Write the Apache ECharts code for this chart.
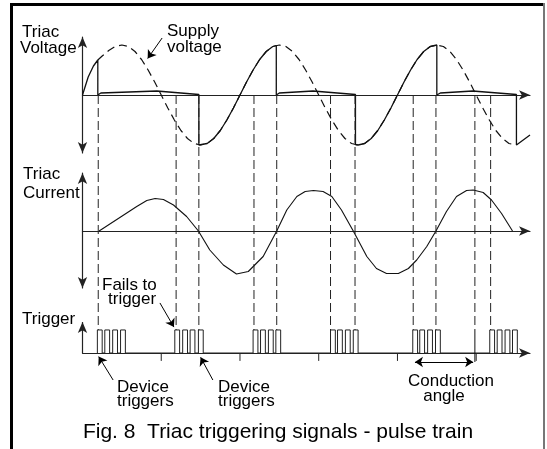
<!DOCTYPE html>
<html>
<head>
<meta charset="utf-8">
<title>Triac triggering signals</title>
<script src="https://cdn.jsdelivr.net/npm/echarts@6/dist/echarts.min.js"></script>
<style>
html, body { margin: 0; padding: 0; background: #fff; }
#chart { width: 547px; height: 449px; }
</style>
</head>
<body>
<div id="chart"></div>
<script>
// x is in electrical degrees from the first zero crossing of the supply
const supplyVoltage = [
  [35, 0.70], [45, 0.78], [60, 0.89], [75, 0.97], [90, 1], [105, 0.97], [120, 0.87], [135, 0.71], [150, 0.5], [165, 0.26],
  [180, 0], [195, -0.26], [210, -0.5], [225, -0.71], [240, -0.87], [255, -0.97], [270, -1], [285, -0.97], [300, -0.87], [315, -0.71], [330, -0.5], [345, -0.26],
  [360, 0], [375, 0.26], [390, 0.5], [405, 0.71], [420, 0.87], [435, 0.97], [450, 1], [465, 0.97], [480, 0.87], [495, 0.71], [510, 0.5], [525, 0.26],
  [540, 0], [555, -0.26], [570, -0.5], [585, -0.71], [600, -0.87], [615, -0.97], [630, -1], [645, -0.97], [660, -0.87], [675, -0.71], [690, -0.5], [705, -0.26],
  [720, 0], [735, 0.26], [750, 0.5], [765, 0.71], [780, 0.87], [795, 0.97], [810, 1], [825, 0.97], [840, 0.87], [855, 0.71], [870, 0.5], [885, 0.26],
  [900, 0], [915, -0.26], [930, -0.5], [945, -0.71], [960, -0.87], [975, -0.97], [990, -1]
];

// triac voltage (solid)
const firingAngles = [35, 443, 810];
const turnOffAngles = [266, 624, 992];
const voltageStart = [[0, 0], [13, 0.36], [25, 0.58], [35, 0.70]];
const onStateVoltage = [
  [[42, 0.04], [170, 0.08], [266, 0.01]],
  [[450, 0.04], [527, 0.08], [624, 0.01]],
  [[818, 0.04], [892, 0.08], [992, 0.01]]
];
const blockedStart = [[266, -1], [624, -0.99], [992, -1]];
const blockedEnd = [[443, 0.99], [810, 1], [1023, -0.8]];

const triacCurrent = [
  [38, 0], [124, 0.49], [147, 0.61], [166, 0.65], [185, 0.63], [208, 0.52], [238, 0.29], [265, 0],
  [291, -0.38], [322, -0.68], [352, -0.86], [379, -0.81], [413, -0.51], [444, 0],
  [467, 0.42], [490, 0.69], [509, 0.79], [528, 0.81], [550, 0.79], [570, 0.69], [592, 0.42], [619, 0],
  [650, -0.51], [672, -0.75], [695, -0.85], [722, -0.85], [745, -0.75], [764, -0.58], [787, -0.31], [808, 0],
  [832, 0.39], [855, 0.69], [878, 0.81], [893, 0.82], [916, 0.77], [935, 0.62], [958, 0.35], [983, 0]
];

const triggerLines = [36, 214, 266, 392, 444, 567, 623, 756, 808, 897, 933];
const pulseTrains = [
  [34, 51, 69, 87], [211, 229, 246, 265], [390, 407, 425, 442],
  [567, 583, 601, 619], [755, 771, 789, 807], [931, 948, 966, 983]
];
const pulseWidth = 11;
const pulseHeight = 0.64;
const zeroCrossings = [180, 360, 540, 720, 900];
const tickDepth = -0.22;
const conductionAngle = [756, 897];

// build the solid triac voltage trace
const triacVoltage = voltageStart.slice();
for (let i = 0; i < 3; i++) {
  triacVoltage.push([firingAngles[i], 0]);
  onStateVoltage[i].forEach(p => triacVoltage.push(p));
  triacVoltage.push(blockedStart[i]);
  const next = blockedEnd[i][0];
  supplyVoltage.forEach(p => { if (p[0] > turnOffAngles[i] && p[0] < next) triacVoltage.push(p); });
  triacVoltage.push(blockedEnd[i]);
}

// pulse path
const pulses = [];
pulseTrains.forEach(train => train.forEach(s => {
  pulses.push([s, 0], [s, pulseHeight], [s + pulseWidth, pulseHeight], [s + pulseWidth, 0]);
}));

const FONT = '"Liberation Sans", Arial, Helvetica, sans-serif';
const ink = '#111';
const left = 82.5, right = 17, xMax = 1023;

const axisStyle = { color: '#222', width: 1.2 };

const chart = echarts.init(document.getElementById('chart'));

function xAxis(i, show) {
  return {
    type: 'value', gridIndex: i, min: 0, max: xMax, show: show,
    axisLine: { show: true, onZero: true, symbol: ['none', 'arrow'], symbolSize: [7, 11], lineStyle: axisStyle },
    axisTick: { show: false },
    axisLabel: { show: false },
    splitLine: { show: false }
  };
}
function yAxis(i, min, max, showLine) {
  return {
    type: 'value', gridIndex: i, min: min, max: max, show: showLine,
    axisLine: { show: showLine, onZero: false, symbol: ['arrow', 'arrow'], symbolSize: [7, 11], lineStyle: axisStyle },
    axisTick: { show: false }, axisLabel: { show: false }, splitLine: { show: false }
  };
}

const arrowLine = { type: 'solid', color: '#000', width: 1 };

const texts = [
  ['Triac', 22, 32.5], ['Voltage', 20, 48.5],
  ['Supply', 167, 31], ['voltage', 167, 47],
  ['Triac', 23, 174], ['Current', 23, 193],
  ['Fails to', 102, 285], ['trigger', 108, 299],
  ['Trigger', 22, 319],
  ['Device', 117, 387], ['triggers', 117, 401],
  ['Device', 218, 387], ['triggers', 218, 401]
];

const graphic = texts.map(t => ({
  type: 'text', silent: true,
  style: { text: t[0], x: t[1], y: t[2], fill: '#000', font: '17px ' + FONT, textAlign: 'left', textVerticalAlign: 'middle' }
}));
graphic.push(
  { type: 'text', silent: true, style: { text: 'Conduction', x: 451, y: 381, fill: '#000', font: '17px ' + FONT, textAlign: 'center', textVerticalAlign: 'middle' } },
  { type: 'text', silent: true, style: { text: 'angle', x: 444, y: 396, fill: '#000', font: '17px ' + FONT, textAlign: 'center', textVerticalAlign: 'middle' } },
  { type: 'text', silent: true, style: { text: 'Fig. 8  Triac triggering signals - pulse train', x: 278, y: 432, fill: '#000', font: '21px ' + FONT, textAlign: 'center', textVerticalAlign: 'middle' } },
  // frame, open at the bottom
  { type: 'line', silent: true, shape: { x1: 11.5, y1: 3, x2: 11.5, y2: 449 }, style: { stroke: '#000', lineWidth: 3 } },
  { type: 'line', silent: true, shape: { x1: 10, y1: 4.5, x2: 545, y2: 4.5 }, style: { stroke: '#000', lineWidth: 3 } },
  { type: 'line', silent: true, shape: { x1: 544, y1: 3, x2: 544, y2: 449 }, style: { stroke: '#777', lineWidth: 2 } }
);

const series = [
  {
    name: 'Supply voltage', type: 'line', xAxisIndex: 0, yAxisIndex: 0,
    data: supplyVoltage, showSymbol: false, clip: false,
    lineStyle: { color: ink, width: 1.2, type: [8, 5] },
    markLine: {
      silent: true, symbol: ['none', 'arrow'], symbolSize: 8, label: { show: false },
      lineStyle: arrowLine,
      data: [[{ coord: [182, 1.14] }, { coord: [149, 0.73] }]]
    }
  },
  {
    name: 'Triac voltage', type: 'line', xAxisIndex: 0, yAxisIndex: 0,
    data: triacVoltage, showSymbol: false, clip: false,
    lineStyle: { color: ink, width: 1.3 }
  },
  {
    name: 'Triac current', type: 'line', xAxisIndex: 1, yAxisIndex: 1,
    data: triacCurrent, showSymbol: false, clip: false,
    lineStyle: { color: ink, width: 1.1 }
  },
  {
    name: 'Trigger', type: 'line', xAxisIndex: 2, yAxisIndex: 2,
    data: pulses, showSymbol: false, clip: false,
    lineStyle: { color: '#222', width: 1 },
    markLine: {
      silent: true, symbol: ['none', 'arrow'], symbolSize: 8, label: { show: false },
      lineStyle: arrowLine,
      data: [
        [{ coord: [177, 1.39] }, { coord: [209, 0.72] }],
        [{ coord: [70, -0.75] }, { coord: [37, -0.1] }],
        [{ coord: [298, -0.75] }, { coord: [270, -0.12] }],
        [{ coord: [conductionAngle[0] + 4, -0.25], symbol: 'arrow' }, { coord: [conductionAngle[1] - 4, -0.25], symbol: 'arrow' }]
      ]
    }
  },
  {
    // vertical axis of the trigger trace
    name: 'Trigger axis', type: 'line', xAxisIndex: 2, yAxisIndex: 2,
    data: [{ value: [0, 0], symbol: 'none' }, { value: [0, 0.86], symbol: 'arrow', symbolSize: [7, 11] }],
    showSymbol: true, clip: false,
    itemStyle: { color: '#222' },
    lineStyle: { color: '#222', width: 1.2 }
  },
  {
    name: 'Conduction end', type: 'line', xAxisIndex: 2, yAxisIndex: 2,
    data: [[conductionAngle[1], pulseHeight], [conductionAngle[1], -0.25]],
    showSymbol: false, clip: false,
    lineStyle: { color: ink, width: 1 }
  }
];

// small ticks under the trigger baseline at the supply zero crossings
zeroCrossings.forEach(x => {
  series.push({
    type: 'line', xAxisIndex: 2, yAxisIndex: 2, showSymbol: false, clip: false,
    data: [[x, 0], [x, tickDepth]],
    lineStyle: { color: '#222', width: 1 }
  });
});

triggerLines.forEach(x => {
  series.push({
    type: 'line', xAxisIndex: 3, yAxisIndex: 3, showSymbol: false, clip: false,
    data: [[x, 1], [x, 0]],
    lineStyle: { color: '#222', width: 1, type: [9, 4] }
  });
});

chart.setOption({
  animation: false,
  backgroundColor: '#fff',
  textStyle: { fontFamily: FONT },
  grid: [
    { left: left, right: right, top: 37, height: 116 },
    { left: left, right: right, top: 173, height: 115 },
    { left: left, right: right, top: 281, height: 126 },
    { left: left, right: right, top: 95, height: 235 }
  ],
  xAxis: [xAxis(0, true), xAxis(1, true), xAxis(2, true), xAxis(3, false)],
  yAxis: [
    yAxis(0, -1.16, 1.16, true),
    yAxis(1, -1.14, 1.16, true),
    yAxis(2, -1.5, 2, false),
    yAxis(3, 0, 1, false)
  ],
  series: series,
  graphic: graphic
});
</script>
</body>
</html>
